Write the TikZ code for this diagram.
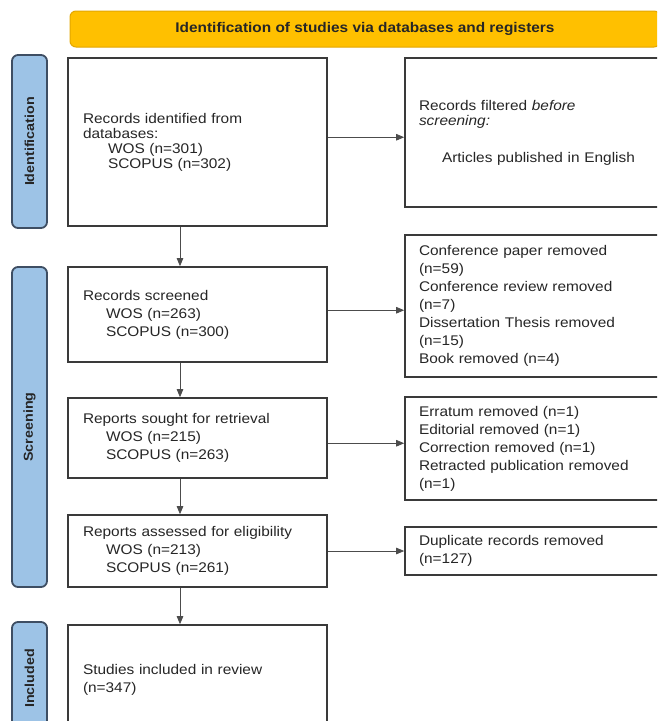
\documentclass[tikz,border=0pt]{standalone}
\usepackage{fontspec}
\setmainfont[FakeStretch=1.1]{Liberation Sans}
\usetikzlibrary{arrows.meta,calc}
\definecolor{bannergold}{HTML}{FFC000}
\definecolor{bannerline}{HTML}{E3A600}
\definecolor{stageblue}{HTML}{9DC3E6}
\definecolor{stageline}{HTML}{3E4E63}
\definecolor{boxline}{HTML}{3A3A3A}
\definecolor{textgray}{HTML}{262626}

\begin{document}
\begin{tikzpicture}[x=1pt,y=-1pt,
    box/.style={draw=boxline, line width=1.6pt, fill=white, text=textgray, align=left, inner ysep=3pt, font=\fontsize{14}{18}\selectfont},
    leftbox/.style={box, text width=229pt, inner xsep=15pt, minimum width=259pt},
    rightbox/.style={box, text width=232pt, inner xsep=14pt, minimum width=260pt},
    stage/.style={draw=stageline, fill=stageblue, line width=1.8pt, rounded corners=6pt, rotate=90, minimum height=35pt, inner sep=0pt, font=\fontsize{13}{15}\selectfont\bfseries, text=black!85},
    banner/.style={draw=bannerline, fill=bannergold, line width=1pt, rounded corners=6pt, minimum width=590pt, minimum height=36pt, font=\fontsize{14}{16}\selectfont\bfseries, text=black!85},
    arr/.style={draw=black!70, line width=0.8pt, -{Triangle[length=8pt,width=6.5pt]}}]
  \useasboundingbox (0,0) rectangle (657,721);
  \clip (0,0) rectangle (657,721);
  % header
  \node[banner] (head) at (365,29) {Identification of studies via databases and registers};
  % stages
  \node[stage, minimum width=173pt] (ident) at (29.5,141.5) {Identification};
  \node[stage, minimum width=320pt] (screen) at (29.5,427) {Screening};
  \node[stage, minimum width=113pt] (incl) at (29.5,678.5) {Included};
  % main column
  \node[leftbox, minimum height=168pt, font=\fontsize{14}{15}\selectfont] (b1) at (197.5,142)
    {Records identified from\\ databases:\\ \hspace*{25pt}WOS (n=301)\\ \hspace*{25pt}SCOPUS (n=302)};
  \node[leftbox, minimum height=95pt] (b2) at (197.5,314.5)
    {Records screened\\ \hspace*{23pt}WOS (n=263)\\ \hspace*{23pt}SCOPUS (n=300)};
  \node[leftbox, minimum height=80pt] (b3) at (197.5,438)
    {Reports sought for retrieval\\ \hspace*{23pt}WOS (n=215)\\ \hspace*{23pt}SCOPUS (n=263)};
  \node[leftbox, minimum height=72pt] (b4) at (197.5,551)
    {Reports assessed for eligibility\\ \hspace*{23pt}WOS (n=213)\\ \hspace*{23pt}SCOPUS (n=261)};
  \node[leftbox, minimum height=110pt] (b5) at (197.5,680)
    {Studies included in review\\ (n=347)};
  % removed records
  \node[rightbox, minimum height=149pt, font=\fontsize{14}{15}\selectfont] (r1) at (535,132.5)
    {Records filtered \textit{before}\\ \textit{screening:}\\[22pt] \hspace*{23pt}Articles published in English};
  \node[rightbox, minimum height=142pt] (r2) at (535,306)
    {Conference paper removed\\ (n=59)\\ Conference review removed\\ (n=7)\\ Dissertation Thesis removed\\ (n=15)\\ Book removed (n=4)};
  \node[rightbox, minimum height=103pt] (r3) at (535,448.5)
    {Erratum removed (n=1)\\ Editorial removed (n=1)\\ Correction removed (n=1)\\ Retracted publication removed\\ (n=1)};
  \node[rightbox, minimum height=48pt] (r4) at (535,551)
    {Duplicate records removed\\ (n=127)};
  % arrows
  \coordinate (ax) at (180,0);
  \foreach \a/\b in {b1/b2,b2/b3,b3/b4,b4/b5}
    \draw[arr] (\a.south -| ax) -- (\b.north -| ax);
  \foreach \i in {1,...,4} {
    \coordinate (m\i) at ($(b\i.east)!.5!(r\i.west)$);
    \draw[arr] (b\i.east |- m\i) -- (r\i.west |- m\i);
  }
\end{tikzpicture}
\end{document}
